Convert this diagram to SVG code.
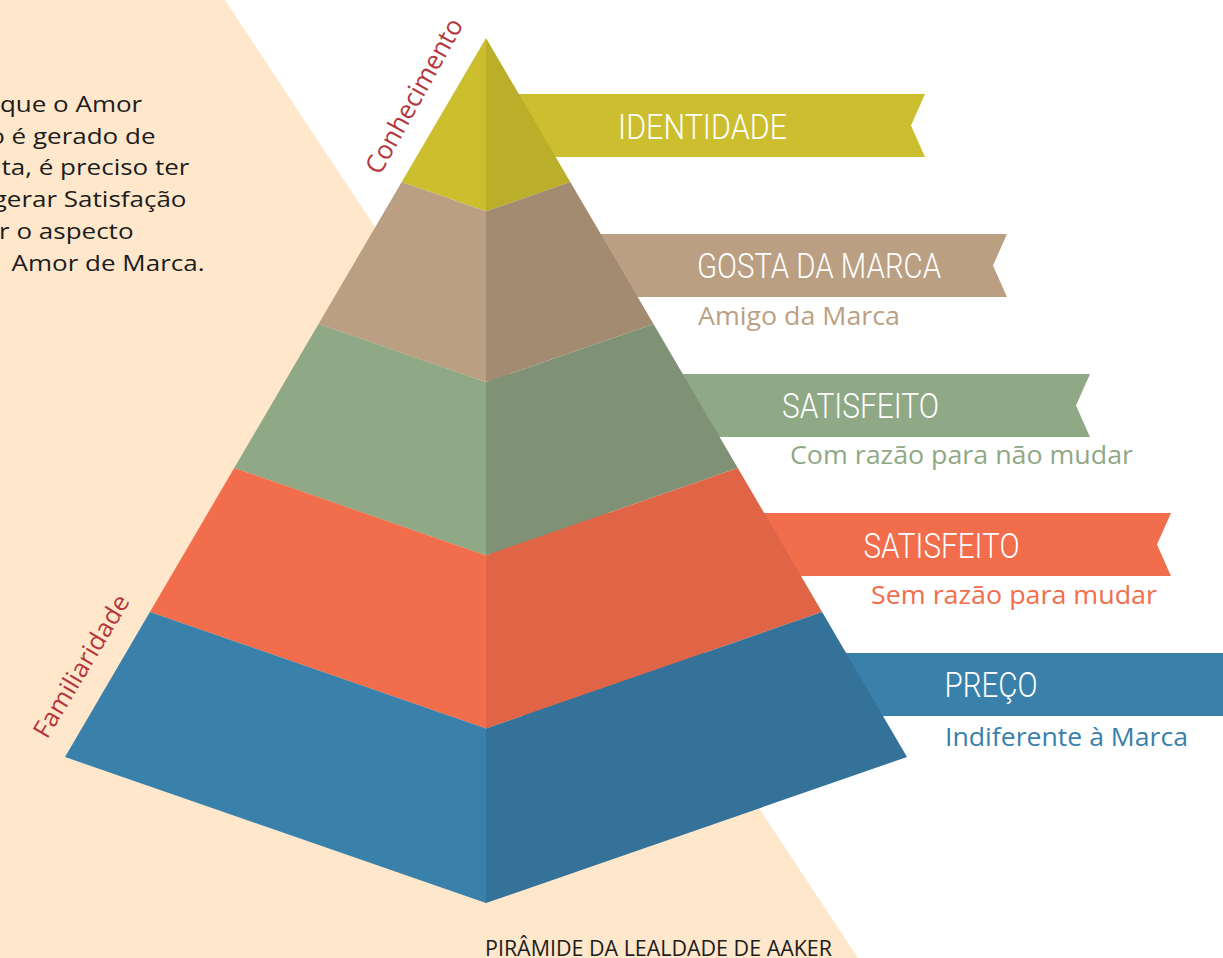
<svg xmlns="http://www.w3.org/2000/svg" width="1223" height="958" viewBox="0 0 1223 958">
  <defs>
    <style>
      .head { font-family: Roboto, "Liberation Sans", sans-serif; font-weight: 300; font-size: 35px; fill: #ffffff; }
      .sub { font-family: "Open Sans", "Liberation Sans", sans-serif; font-size: 25.5px; }
      .body { font-family: "Open Sans", "Liberation Sans", sans-serif; font-size: 22.5px; fill: #1c1c1c; text-anchor: end; }
      .axis { font-family: "Open Sans", "Liberation Sans", sans-serif; fill: #b3363c; }
      .cap { font-family: "Open Sans", "Liberation Sans", sans-serif; font-size: 21.5px; fill: #1c1c1c; }
    </style>
  </defs>

  <rect x="0" y="0" width="1223" height="958" fill="#ffffff"/>
  <polygon id="background" points="0,0 225,0 858,958 0,958" fill="#fee7cb"/>

  <!-- intro text (clipped at left edge) -->
  <g id="intro-text" transform="scale(1.156,1)">
    <text class="body" x="123" y="112">que o Amor</text>
    <text class="body" x="134.5" y="144">o é gerado de</text>
    <text class="body" x="163.9" y="175.5">ta, é preciso ter</text>
    <text class="body" x="161.3" y="207.5">gerar Satisfação</text>
    <text class="body" x="115.5" y="239">r o aspecto</text>
    <text class="body" x="176.9" y="271">Amor de Marca.</text>
  </g>

  <!-- banners (behind the pyramid) -->
  <g id="banner-identidade">
    <polygon points="490,94 925,94 911,125.5 925,157 490,157" fill="#ccbe2e"/>
    <text class="head" x="618" y="139" textLength="169" lengthAdjust="spacingAndGlyphs">IDENTIDADE</text>
  </g>
  <g id="banner-gosta">
    <polygon points="490,234 1007,234 993,265.5 1007,297 490,297" fill="#bb9f83"/>
    <text class="head" x="697" y="278" textLength="244" lengthAdjust="spacingAndGlyphs">GOSTA DA MARCA</text>
    <text class="sub" x="698" y="325" fill="#bb9f83" textLength="202" lengthAdjust="spacingAndGlyphs">Amigo da Marca</text>
  </g>
  <g id="banner-satisfeito-1">
    <polygon points="490,374 1090,374 1076,405.5 1090,437 490,437" fill="#8fa886"/>
    <text class="head" x="782" y="418" textLength="157" lengthAdjust="spacingAndGlyphs">SATISFEITO</text>
    <text class="sub" x="790" y="464" fill="#8fa886" textLength="343" lengthAdjust="spacingAndGlyphs">Com razão para não mudar</text>
  </g>
  <g id="banner-satisfeito-2">
    <polygon points="490,513 1171,513 1157,544.5 1171,576 490,576" fill="#f26d4c"/>
    <text class="head" x="863.5" y="557.5" textLength="156" lengthAdjust="spacingAndGlyphs">SATISFEITO</text>
    <text class="sub" x="871" y="604" fill="#f26d4c" textLength="286" lengthAdjust="spacingAndGlyphs">Sem razão para mudar</text>
  </g>
  <g id="banner-preco">
    <polygon points="490,653 1223,653 1223,716 490,716" fill="#3980ab"/>
    <text class="head" x="944.5" y="697" textLength="93" lengthAdjust="spacingAndGlyphs">PREÇO</text>
    <text class="sub" x="945" y="745.5" fill="#3980ab" textLength="243" lengthAdjust="spacingAndGlyphs">Indiferente à Marca</text>
  </g>

  <!-- pyramid -->
  <g id="pyramid">
    <g id="layer-identidade">
      <polygon points="486,38 401.7,182 486,211.3" fill="#cdbe2e"/>
      <polygon points="486,38 486,211.3 570.3,182" fill="#bbae28"/>
    </g>
    <g id="layer-gosta">
      <polygon points="401.7,182 486,211.3 486,382.1 318.5,324" fill="#bb9f83"/>
      <polygon points="570.3,182 486,211.3 486,382.1 653.5,324" fill="#a38b71"/>
    </g>
    <g id="layer-satisfeito-1">
      <polygon points="318.5,324 486,382.1 486,555.4 234.2,468" fill="#8fa886"/>
      <polygon points="653.5,324 486,382.1 486,555.4 737.8,468" fill="#7f9275"/>
    </g>
    <g id="layer-satisfeito-2">
      <polygon points="234.2,468 486,555.4 486,728.6 149.9,612" fill="#f26d4c"/>
      <polygon points="737.8,468 486,555.4 486,728.6 822.1,612" fill="#df6546"/>
    </g>
    <g id="layer-preco">
      <polygon points="149.9,612 486,728.6 486,903.1 65,757" fill="#3980ab"/>
      <polygon points="822.1,612 486,728.6 486,903.1 907,757" fill="#34729a"/>
    </g>
  </g>

  <!-- side labels -->
  <g id="label-conhecimento" transform="translate(380,176) rotate(-61)">
    <text class="axis" x="0" y="0" font-size="26" textLength="173" lengthAdjust="spacingAndGlyphs">Conhecimento</text>
  </g>
  <g id="label-familiaridade" transform="translate(47,740) rotate(-59)">
    <text class="axis" x="0" y="0" font-size="25" textLength="162" lengthAdjust="spacingAndGlyphs">Familiaridade</text>
  </g>

  <g id="caption">
    <text class="cap" x="485" y="956" textLength="347" lengthAdjust="spacingAndGlyphs">PIRÂMIDE DA LEALDADE DE AAKER</text>
  </g>

  <g id="connectors"></g>
</svg>
